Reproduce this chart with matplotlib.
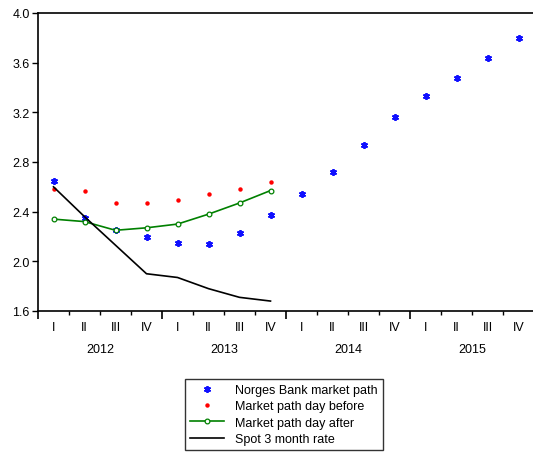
import matplotlib
matplotlib.use("Agg")
import matplotlib.pyplot as plt
from matplotlib.ticker import FixedLocator, NullFormatter
import matplotlib.transforms as mtransforms

plt.rcParams['font.family'] = ['Liberation Sans', 'DejaVu Sans']

years = ["2012", "2013", "2014", "2015"]
quarters = ["I", "II", "III", "IV"]

norges_bank = [2.65, 2.35, 2.25, 2.20, 2.15, 2.14, 2.23, 2.37,
               2.54, 2.72, 2.94, 3.16, 3.33, 3.48, 3.64, 3.80]
day_before = [2.58, 2.57, 2.47, 2.47, 2.49, 2.54, 2.58, 2.64]
day_after = [2.34, 2.32, 2.25, 2.27, 2.30, 2.38, 2.47, 2.57]
spot_3m = [2.60, 2.36, 2.13, 1.90, 1.87, 1.78, 1.71, 1.68]

W, H = 533, 456
fig = plt.figure(figsize=(W / 100, H / 100), dpi=100)
ax = fig.add_axes([38 / W, (H - 312) / H, (534 - 38) / W, (312 - 14) / H])

n = len(years) * 4
xs = [i + 0.5 for i in range(n)]

ax.plot(xs[:len(norges_bank)], norges_bank, linestyle='none', marker=(6, 2, 0),
        markersize=5, markeredgewidth=1.3, color='#1010ff', label='Norges Bank market path')
ax.plot(xs[:len(day_before)], day_before, linestyle='none', marker='o',
        markersize=3.2, color='#ff0000', markeredgewidth=0, label='Market path day before')
ax.plot(xs[:len(day_after)], day_after, color='#008000', linewidth=1.2, marker='o',
        markersize=3.4, markerfacecolor='white', markeredgecolor='#008000',
        markeredgewidth=0.9, label='Market path day after')
ax.plot(xs[:len(spot_3m)], spot_3m, color='black', linewidth=1.2, label='Spot 3 month rate')

ax.set_xlim(0, n)
ax.set_ylim(1.6, 4.0)
ax.set_yticks([1.6, 2.0, 2.4, 2.8, 3.2, 3.6, 4.0])
ax.set_yticklabels(["1.6", "2.0", "2.4", "2.8", "3.2", "3.6", "4.0"])
ax.tick_params(axis='y', direction='out', length=4, width=1, labelsize=9, pad=2)

ax.xaxis.set_major_locator(FixedLocator(list(range(0, n + 1, 4))))
ax.xaxis.set_minor_locator(FixedLocator([i for i in range(n) if i % 4 != 0]))
ax.xaxis.set_major_formatter(NullFormatter())
ax.tick_params(axis='x', which='major', direction='out', length=6, width=1.2)
ax.tick_params(axis='x', which='minor', direction='out', length=3, width=1)

for s in ['left', 'bottom', 'top']:
    ax.spines[s].set_linewidth(1.2)
ax.spines['right'].set_visible(False)

trans = mtransforms.blended_transform_factory(ax.transData, fig.transFigure)
for yi, yr in enumerate(years):
    for qi, q in enumerate(quarters):
        ax.text(yi * 4 + qi + 0.5, 1 - 328 / H, q, transform=trans, ha='center',
                va='center', fontsize=9)
    ax.text(yi * 4 + 2, 1 - 350 / H, yr, transform=trans, ha='center',
            va='center', fontsize=9)

leg = fig.legend(loc='upper left', bbox_to_anchor=(185 / W, 1 - 380 / H),
                 fontsize=9, frameon=True, fancybox=False, edgecolor='black',
                 handlelength=2.7, labelspacing=0.35, borderpad=0.4,
                 handletextpad=0.9, borderaxespad=0)
leg.get_frame().set_linewidth(1.0)

fig.savefig("out.png", dpi=100)
